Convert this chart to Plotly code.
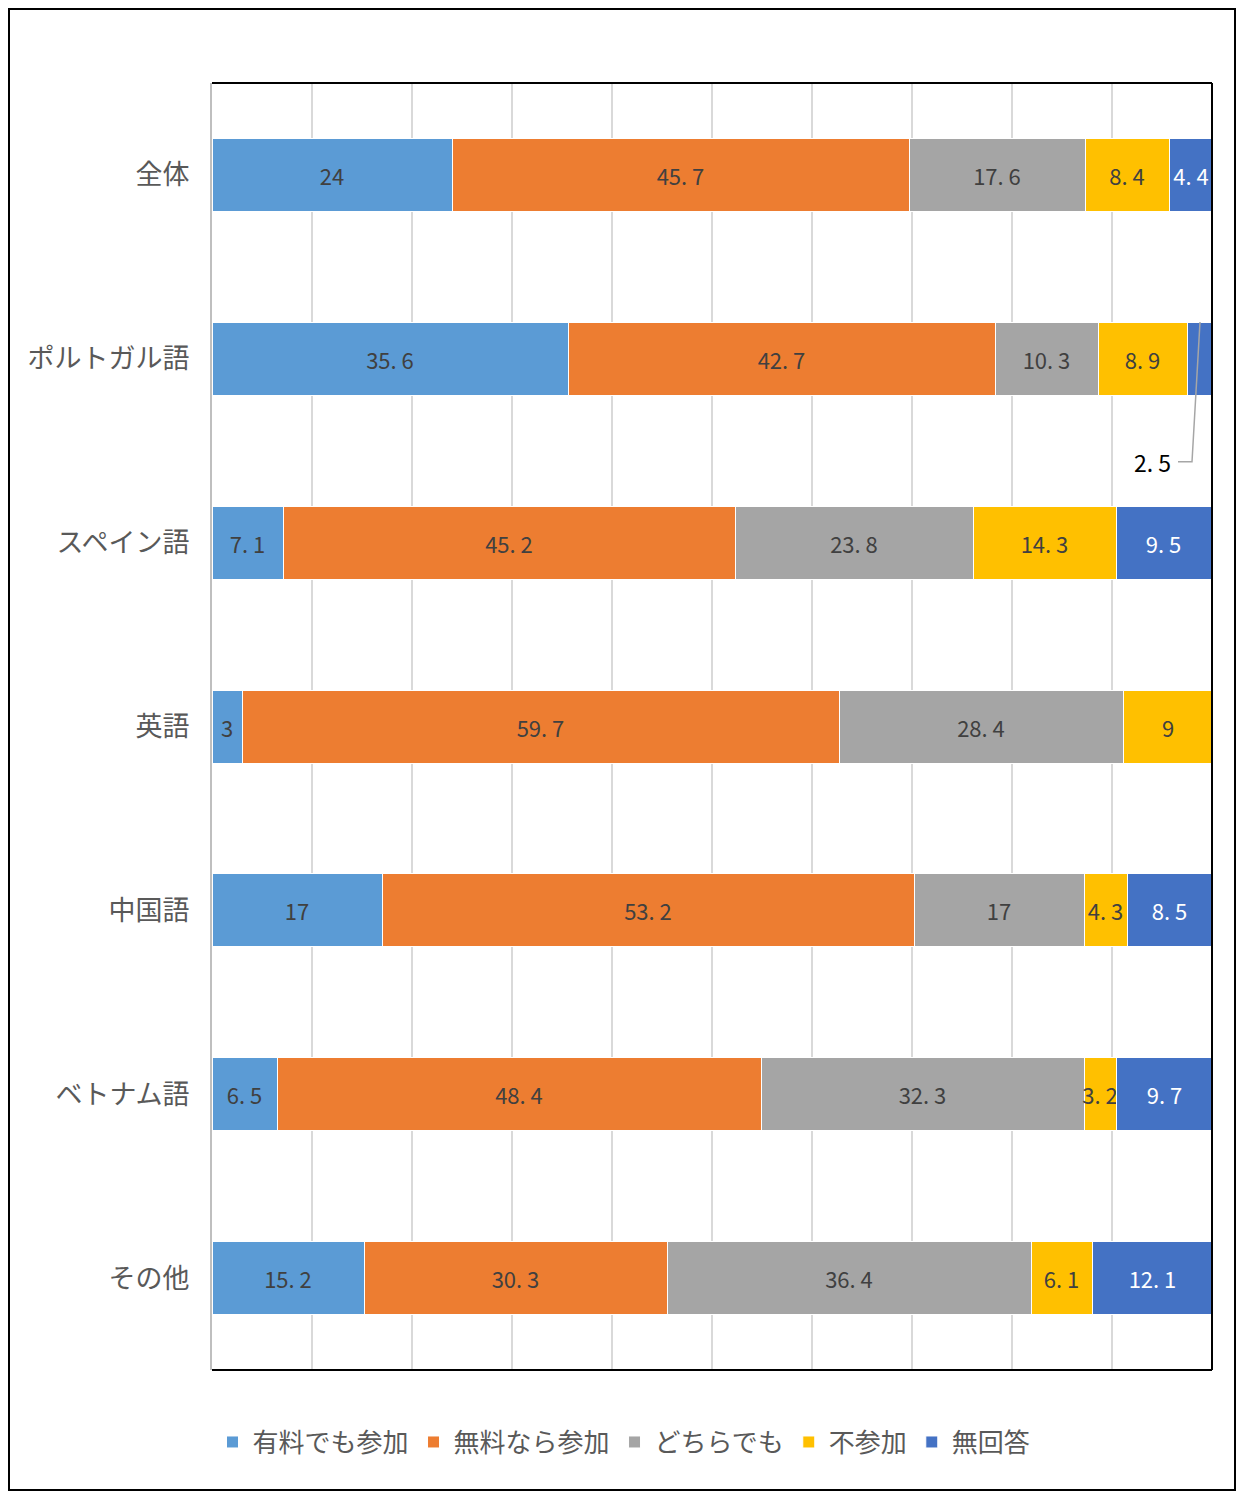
import plotly.graph_objects as go

categories = ["全体", "ポルトガル語", "スペイン語", "英語", "中国語", "ベトナム語", "その他"]
series_names = ["有料でも参加", "無料なら参加", "どちらでも", "不参加", "無回答"]
paid = [24, 35.6, 7.1, 3, 17, 6.5, 15.2]
free = [45.7, 42.7, 45.2, 59.7, 53.2, 48.4, 30.3]
either = [17.6, 10.3, 23.8, 28.4, 17, 32.3, 36.4]
no_join = [8.4, 8.9, 14.3, 9, 4.3, 3.2, 6.1]
no_answer = [4.4, 2.5, 9.5, 0, 8.5, 9.7, 12.1]

colors = ["#5B9BD5", "#ED7D31", "#A5A5A5", "#FFC000", "#4472C4"]
text_colors = ["#404040", "#404040", "#404040", "#404040", "#FFFFFF"]
FONT = "Noto Sans CJK JP"


def label(v, hide_small=False):
    if v == 0 or (hide_small and v < 3):
        return ""
    return f"{v:g}".replace(".", ". ")


fig = go.Figure()
for name, vals, c, tc in zip(series_names, [paid, free, either, no_join, no_answer], colors, text_colors):
    fig.add_trace(go.Bar(
        y=categories, x=vals, name=name, orientation="h",
        marker=dict(color=c, line=dict(color="white", width=1)),
        text=[label(v, name == "無回答") for v in vals],
        textposition="inside", insidetextanchor="middle", textangle=0,
        textfont=dict(family=FONT, size=22, color=tc),
        hoverinfo="skip",
    ))

# outside label for the small Portuguese "no answer" segment
pt_na = no_answer[1]
fig.add_annotation(x=94.0, y=1.56, text=label(pt_na), showarrow=False,
                   font=dict(family=FONT, size=23, color="#000000"))
fig.add_shape(type="path", xref="x", yref="y",
              path="M 98.8,0.8 L 98.0,1.56 L 96.6,1.56",
              line=dict(color="#A6A6A6", width=1.5))

# plot area border (top, right, bottom)
for x0, y0, x1, y1 in [(0, 1, 1, 1), (1, 0, 1, 1), (0, 0, 1, 0)]:
    fig.add_shape(type="line", xref="paper", yref="paper", x0=x0, y0=y0, x1=x1, y1=y1,
                  line=dict(color="black", width=2))
# outer chart border
fig.add_shape(type="rect", xref="paper", yref="paper",
              x0=-0.203, x1=1.023, y0=-0.0932, y1=1.0575,
              line=dict(color="black", width=2), fillcolor="rgba(0,0,0,0)")

fig.update_layout(
    barmode="stack", bargap=0.603,
    width=1228, height=1483,
    margin=dict(l=204, r=24, t=75, b=121),
    plot_bgcolor="white", paper_bgcolor="white",
    font=dict(family=FONT, color="#595959"),
    uniformtext=dict(minsize=22, mode="show"),
    legend=dict(orientation="h", x=0.412, xanchor="center", y=-0.056, yanchor="middle",
                font=dict(size=26, color="#595959"), traceorder="normal",
                itemclick=False, itemwidth=30),
    showlegend=True,
)
fig.update_xaxes(range=[0, 100], dtick=10, showgrid=True, gridcolor="#D9D9D9", gridwidth=1.5,
                 showticklabels=False, zeroline=False, fixedrange=True)
fig.update_yaxes(range=[6.5, -0.5], showgrid=False, showline=True, linecolor="#BFBFBF", linewidth=2,
                 tickfont=dict(size=27, color="#595959"), ticks="", ticklabelstandoff=15,
                 fixedrange=True)

fig.write_html("out.html")
